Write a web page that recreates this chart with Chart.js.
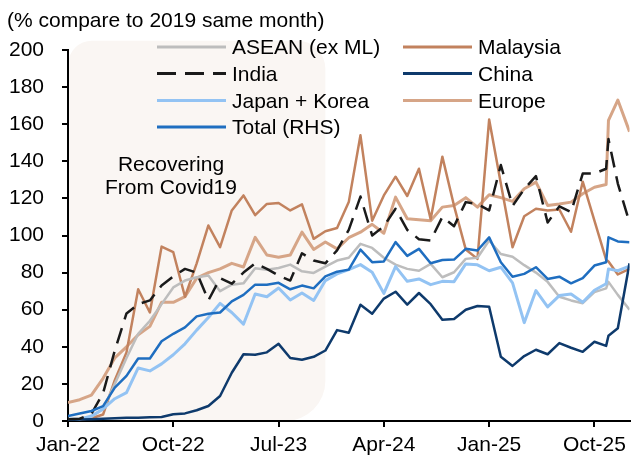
<!DOCTYPE html>
<html>
<head>
<meta charset="utf-8">
<script src="https://cdn.jsdelivr.net/npm/chart.js@4/dist/chart.umd.min.js"></script>
<style>
  html, body { margin: 0; padding: 0; background: #fff; }
  #wrap { position: relative; width: 632px; height: 462px; overflow: hidden;
          font-family: "Liberation Sans", Arial, sans-serif; color: #000; }
  #c { position: absolute; left: 0; top: 0; }
  .txt { position: absolute; font-size: 21px; line-height: 21px; white-space: nowrap; }
</style>
</head>
<body>
<div id="wrap">
  <canvas id="c" width="632" height="462"></canvas>
</div>
<script>
// Months since Jan-22 (Nov-25 has an extra reading just after the month start)
const monthIdx = [0,1,2,3,4,5,6,7,8,9,10,11,12,13,14,15,16,17,18,19,20,21,22,23,24,25,26,27,28,29,
                  30,31,32,33,34,35,36,37,38,39,40,41,42,43,44,45,46,46.2,47,48];

const tickMonths = [0, 9, 18, 27, 36, 45];
const tickLabels = ['Jan-22', 'Oct-22', 'Jul-23', 'Apr-24', 'Jan-25', 'Oct-25'];

// Arrivals, % of the same month in 2019
const asean = [1,1,2.2,6.5,20,34,47,54,63,72, 75.7,77.5,78.4,70,73.5,74.2,82.3,81.5,82.5,84.3,
               80.7,79.8,83.2,86.5,88,95.5,93.3,88,84.3,82, 81,84.7,77.5,80.2,87.4,88,97.3,90,88.5,84,
               80,75,67,65,63.5,69.5,71.5, 75,68,60];
const india = [1,1.2,3.8,15,38,58,63,65,73,78, 82,80,65,77,74,80,85,82,78.4,75.7,
               90.4,86.5,85,92,103,121,100,105,114.4,103, 98,97.3,110,105,118,117,113.5,138,116,125,
               132,107,115.7,112.6,133.4,133.4,136, 152,128,107];
const japanKorea = [1,1,2.7,6.5,12,15.3,28.6,27,30.8,35.7, 41.6,49,55.8,63.4,58.5,52.2,68.5,67,71.7,65.2,
               69,65,75.7,79.3,81.6,84.3,80.2,68.8,83.2,75.3, 76.6,73.5,75.3,75.1,84.7,84.2,81,82.9,74.5,53,
               70.3,61.5,67.6,68.5,64,70.5,74, 82,81,83.5];
const total = [2.7,4,5.4,8,18,24.3,33.7,33.7,43,47, 50.5,56.4,57.8,58.5,64.5,68,73.5,73.5,74.5,71,
               73,71.5,78,80.5,81.6,92.4,85.6,86,96.4,89, 92.8,85,86.8,87,92.8,91.9,99,85.6,77.8,79.3,
               82.9,76.6,77.8,74.2,77,83.8,85.6, 99,96.8,96.4];
const malaysia = [0.5,0.8,1.5,3.5,22,37,71,58.5,94,91, 67,85,105.4,93.7,113.5,121.6,111,117,117.5,113.5,
               116.8,98.2,102.3,104,118,154,108,121.6,131.7,121.3, 136,108.8,142.5,116,92.5,87.4,162.5,128,93.7,110.4,
               114.4,113.5,114,102,129,108,87, 86,79,82];
const china = [0.5,0.8,1,1.2,1.5,1.7,1.8,2,2.2,3.6, 4.1,5.8,8.1,13.5,26,36,35.7,37,41.6,34,
               33,34.6,38,49,47.6,62.7,57.8,66,69.7,62.7, 69,63,54.6,55,60,62,61.6,34.6,29.7,35,
               38.4,36,42,39.5,37.3,42.7,40.5, 46,50,85];
const europe = [10,11.5,14,23,34,40,46.5,51,64,64, 67,77,80,82,85,83,99,89.5,88.3,89.5,
               101.8,92.5,96.5,92.8,98.8,101.8,106,101.2,120.7,109, 108.5,108,115.3,116.2,120.4,115.3,122,120.4,118.4,125.2,
               128.8,116.2,117,118,122.5,126,127.5, 162,173,156];

// Shaded recovery period (months since Jan-22)
const covidBand = [0, 22];

const FONT = '"Liberation Sans", Arial, sans-serif';

function pts(vals) { return monthIdx.map((m, i) => ({ x: m, y: vals[i] })); }

const series = [
  { label: 'ASEAN (ex ML)',  data: asean,      color: '#BDBDBD', width: 2.5, dash: [],     order: 4, col: 0, row: 0 },
  { label: 'India',          data: india,      color: '#1A1A1A', width: 2.5, dash: [16, 9], order: 1, col: 0, row: 1 },
  { label: 'Japan + Korea',  data: japanKorea, color: '#93C3F3', width: 3,   dash: [],     order: 3, col: 0, row: 2 },
  { label: 'Total (RHS)',    data: total,      color: '#1F6EC0', width: 2.5, dash: [],     order: 0, col: 0, row: 3 },
  { label: 'Malaysia',       data: malaysia,   color: '#C2825E', width: 2.5, dash: [],     order: 5, col: 1, row: 0 },
  { label: 'China',          data: china,      color: '#0E3A6C', width: 2.5, dash: [],     order: 2, col: 1, row: 1 },
  { label: 'Europe',         data: europe,     color: '#D6A587', width: 3,   dash: [],     order: 6, col: 1, row: 2 }
];

// legend geometry
const legendCols = [{ x0: 157, x1: 226, tx: 232 }, { x0: 403, x1: 472, tx: 478 }];
const legendRows = [47, 73.5, 100.5, 127];

const bandPlugin = {
  id: 'covidBand',
  beforeDraw(chart) {
    const { ctx, scales: { x, y } } = chart;
    const l = x.getPixelForValue(covidBand[0]);
    const r = x.getPixelForValue(covidBand[1]);
    const t = y.getPixelForValue(205);
    const b = y.getPixelForValue(0);
    ctx.save();
    ctx.fillStyle = '#FAF6F3';
    ctx.beginPath();
    ctx.roundRect(l, t, r - l, b - t, [24, 28, 40, 0]);
    ctx.fill();
    ctx.restore();
  }
};

const legendPlugin = {
  id: 'lineLegend',
  afterDatasetsDraw(chart) {
    const ctx = chart.ctx;
    ctx.save();
    series.forEach(s => {
      const c = legendCols[s.col];
      const yy = legendRows[s.row];
      ctx.strokeStyle = s.color;
      ctx.lineWidth = 3;
      ctx.setLineDash(s.dash.length ? [19, 9] : []);
      ctx.beginPath();
      ctx.moveTo(c.x0, yy);
      ctx.lineTo(c.x1, yy);
      ctx.stroke();
    });
    ctx.restore();
  }
};

new Chart(document.getElementById('c'), {
  type: 'line',
  data: {
    datasets: series.map(s => ({
      label: s.label,
      data: pts(s.data),
      borderColor: s.color,
      backgroundColor: s.color,
      borderWidth: s.width,
      borderDash: s.dash,
      borderJoinStyle: 'round',
      pointRadius: 0,
      tension: 0,
      fill: false,
      order: s.order
    }))
  },
  options: {
    responsive: false,
    animation: false,
    devicePixelRatio: 1,
    layout: { padding: { top: 50, right: 1, left: 0, bottom: 0 } },
    plugins: { legend: { display: false }, tooltip: { enabled: false }, title: { display: false } },
    scales: {
      x: {
        type: 'linear',
        min: 0,
        max: 48,
        afterBuildTicks(scale) { scale.ticks = tickMonths.map(v => ({ value: v })); },
        afterFit(scale) { scale.height = 41; },
        ticks: {
          callback: (v) => tickLabels[tickMonths.indexOf(v)] ?? '',
          color: '#000',
          font: { family: FONT, size: 21 },
          padding: 6,
          maxRotation: 0,
          autoSkip: false
        },
        grid: { drawOnChartArea: false, drawTicks: true, tickLength: 6, color: '#000', lineWidth: 2 },
        border: { display: true, color: '#000', width: 2 }
      },
      y: {
        min: 0,
        max: 200,
        afterFit(scale) { scale.width = 68; },
        ticks: {
          stepSize: 20,
          color: '#000',
          font: { family: FONT, size: 21 },
          padding: 18
        },
        grid: { drawOnChartArea: false, drawTicks: true, tickLength: 6, color: '#000', lineWidth: 2 },
        border: { display: true, color: '#000', width: 2 }
      }
    }
  },
  plugins: [bandPlugin, legendPlugin]
});

// text overlays
const wrap = document.getElementById('wrap');
function addText(str, left, top, opts = {}) {
  const d = document.createElement('div');
  d.className = 'txt';
  d.textContent = str;
  d.style.left = left + 'px';
  d.style.top = top + 'px';
  if (opts.center) { d.style.width = '240px'; d.style.textAlign = 'center'; }
  wrap.appendChild(d);
}
addText('(% compare to 2019 same month)', 7, 9);
series.forEach(s => addText(s.label, legendCols[s.col].tx, legendRows[s.row] - 11));
addText('Recovering', 171 - 120, 153, { center: true });
addText('From Covid19', 171 - 120, 176, { center: true });
</script>
</body>
</html>
